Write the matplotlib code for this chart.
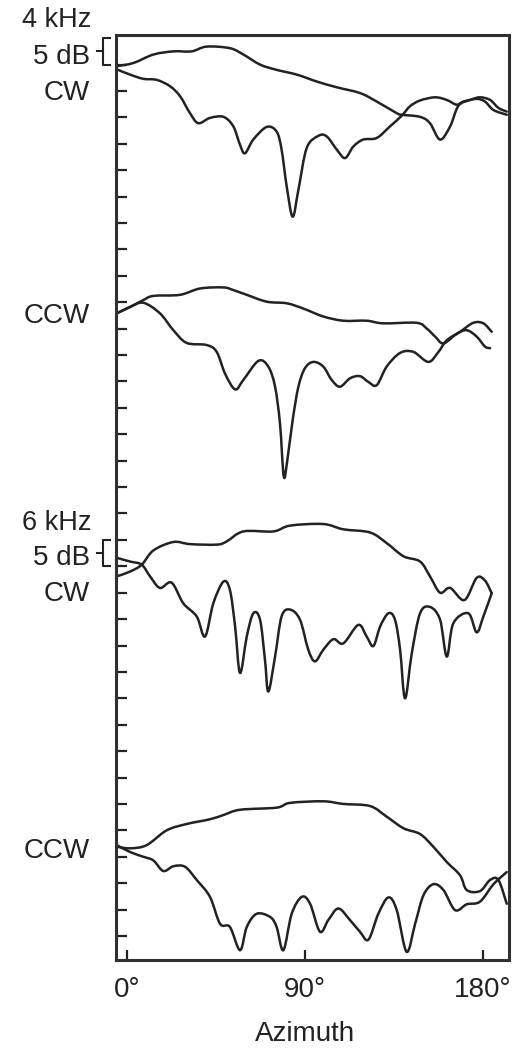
import matplotlib
matplotlib.use("Agg")
import matplotlib.pyplot as plt
from matplotlib.path import Path
from matplotlib.patches import PathPatch

plt.rcParams["font.family"] = ["Liberation Sans", "DejaVu Sans"]

# level of each panel on the common dB axis (5 dB per tick)
panel_names = ["4 kHz CW", "4 kHz CCW", "6 kHz CW", "6 kHz CCW"]
panel_offsets = [165, 120, 70, 15]

# 4 kHz, CW
cw4_smooth_az = [-5, 3.4, 13.5, 23.6, 32.8, 40.4, 52.2, 59.0, 67.4, 75.8, 86.0,
                 96.0, 106.2, 118.0, 126.4, 136.5, 139.0, 148.3, 153.3, 158.4,
                 163.5, 167.7, 173.6, 178.6, 183.7, 187.9, 192.1]
cw4_smooth_db = [-0.3, 0.3, 1.9, 2.5, 2.5, 3.4, 3.1, 1.9, 0.0, -1.0, -1.9,
                 -3.2, -4.3, -5.4, -7.0, -9.2, -9.5, -9.9, -11.1, -14.2,
                 -11.7, -7.8, -6.7, -6.2, -6.7, -8.2, -8.9]
cw4_notch_az = [-5, 1.7, 8.4, 15.2, 21.9, 27.0, 32.0, 36.2, 42.1, 48.9, 53.9,
                57.3, 59.8, 64.0, 70.8, 75.8, 78.3, 80.9, 83.9, 86.8, 91.0,
                96.9, 101.1, 106.2, 110.4, 114.6, 119.6, 126.4, 133.1, 139.0,
                143.2, 148.3, 155.9, 161.8, 166.8, 170.2, 176.9, 181.1, 185.4,
                192.1]
cw4_notch_db = [-0.9, -1.9, -2.7, -2.9, -4.1, -6.0, -9.2, -11.1, -10.1, -9.9,
                -11.7, -15.2, -16.8, -14.2, -11.8, -12.7, -16.1, -23.1, -28.8,
                -23.7, -15.8, -13.5, -13.6, -16.1, -17.7, -15.5, -14.2, -13.9,
                -11.7, -9.7, -7.9, -6.8, -6.2, -6.7, -7.6, -7.0, -6.5, -7.0,
                -8.6, -9.5]

# 4 kHz, CCW
ccw4_smooth_az = [-5, 1.7, 8.4, 13.5, 26.9, 37.1, 48.9, 53.9, 60.7, 70.8, 80.9,
                  89.3, 99.4, 109.5, 121.3, 129.7, 146.6, 151.7, 155.9, 160.1,
                  166.8, 171.9, 176.9, 181.1, 183.7]
ccw4_smooth_db = [-2.1, -0.9, 0.4, 1.2, 1.4, 2.6, 2.8, 2.3, 1.4, 0.1, -0.2,
                  -1.2, -2.7, -3.5, -3.5, -4.0, -3.9, -5.0, -6.5, -7.8,
                  -6.0, -5.3, -6.5, -8.4, -8.7]
ccw4_notch_az = [-5, 1.7, 8.4, 16.8, 23.6, 30.3, 40.4, 45.5, 49.7, 54.8, 59.0,
                 66.6, 71.6, 75.0, 77.5, 79.4, 81.2, 83.9, 86.8, 90.1, 94.4,
                 99.4, 103.6, 107.8, 112.9, 117.9, 122.2, 126.4, 131.4, 138.2,
                 144.9, 152.5, 157.6, 161.8, 168.5, 175.2, 180.3, 184.5]
ccw4_notch_db = [-2.1, -0.9, -0.1, -2.1, -5.3, -7.7, -8.1, -9.4, -13.5, -16.5,
                 -14.7, -11.1, -12.2, -16.0, -23.0, -33.0, -29.9, -22.3, -16.0,
                 -12.5, -11.3, -12.2, -14.7, -16.0, -14.4, -14.0, -15.1, -15.7,
                 -12.2, -9.6, -9.4, -11.3, -9.4, -7.2, -5.6, -3.9, -4.0, -5.6]

# 6 kHz, CW
cw6_smooth_az = [-5, 1.7, 7.6, 13.5, 23.6, 32.0, 45.5, 50.5, 59.0, 74.1, 82.6,
                 99.4, 109.5, 123.0, 131.4, 139.9, 148.3, 153.3, 158.4, 163.5,
                 170.7, 176.9, 181.1, 184.5]
cw6_smooth_db = [-1.9, -1.0, 0.3, 3.0, 4.6, 4.2, 4.1, 4.7, 6.6, 6.6, 7.7,
                 8.0, 7.0, 6.4, 4.4, 1.9, 0.9, -1.9, -5.0, -4.1,
                 -6.4, -2.2, -2.7, -5.1]
cw6_notch_az = [-5, 1.7, 7.6, 11.8, 16.8, 22.7, 28.6, 35.4, 39.6, 43.8, 48.9,
                52.2, 54.8, 57.3, 60.7, 64.0, 67.4, 69.9, 71.6, 75.0, 78.3,
                82.6, 87.6, 91.8, 95.2, 99.4, 104.5, 109.5, 117.1, 121.3,
                124.7, 128.1, 132.3, 135.6, 138.2, 140.7, 144.1, 148.3, 153.3,
                158.4, 161.8, 165.1, 172.7, 176.9, 180.3, 184.5]
cw6_notch_db = [1.6, 0.9, 0.3, -1.9, -4.1, -3.1, -7.0, -9.5, -13.3, -7.0, -2.9,
                -4.5, -11.4, -20.2, -13.3, -8.9, -10.1, -17.7, -23.7, -17.1,
                -9.5, -8.2, -10.1, -15.8, -18.0, -15.8, -13.8, -14.6, -11.1,
                -13.3, -15.1, -11.4, -8.9, -10.1, -15.8, -25.0, -16.5, -8.9,
                -7.7, -10.1, -17.1, -10.8, -8.9, -12.5, -9.5, -5.1]

# 6 kHz, CCW
ccw6_smooth_az = [-5, 1.7, 10.1, 20.2, 30.3, 42.1, 48.9, 57.3, 75.8, 82.6,
                  99.4, 109.5, 123.0, 131.4, 139.9, 148.3, 155.0, 161.8, 168.5,
                  171.9, 178.6, 183.7, 187.9, 192.1]
ccw6_smooth_db = [1.9, 1.6, 2.2, 5.0, 6.2, 7.1, 7.9, 8.9, 9.3, 10.2,
                  10.5, 10.0, 9.6, 7.6, 5.4, 4.3, 1.9, -1.0, -3.5,
                  -6.3, -6.5, -4.4, -4.4, -8.9]
ccw6_notch_az = [-5, 1.7, 8.4, 13.5, 18.5, 23.6, 29.5, 35.4, 42.1, 47.2, 52.2,
                 57.3, 60.7, 65.7, 72.5, 75.8, 79.2, 83.4, 88.5, 92.7, 97.7,
                 101.9, 107.0, 112.9, 117.9, 122.2, 127.2, 132.3, 136.5, 141.5,
                 145.8, 150.0, 155.0, 160.1, 166.0, 171.9, 178.6, 185.4, 192.1]
ccw6_notch_db = [2.2, 0.9, 0.0, -0.7, -2.7, -1.8, -1.9, -4.4, -7.6, -12.7,
                 -13.3, -17.7, -13.3, -10.8, -11.4, -13.3, -17.7, -10.8, -7.6,
                 -8.9, -14.2, -12.0, -9.8, -12.0, -14.2, -15.7, -10.8, -7.7,
                 -10.1, -18.0, -12.7, -7.3, -5.2, -6.3, -10.1, -9.0, -8.5,
                 -5.2, -2.9]

curves = [
    (cw4_smooth_az, cw4_smooth_db, cw4_notch_az, cw4_notch_db),
    (ccw4_smooth_az, ccw4_smooth_db, ccw4_notch_az, ccw4_notch_db),
    (cw6_smooth_az, cw6_smooth_db, cw6_notch_az, cw6_notch_db),
    (ccw6_smooth_az, ccw6_smooth_db, ccw6_notch_az, ccw6_notch_db),
]

x_ticks = [0, 90, 180]
x_tick_labels = ["0°", "90°", "180°"]

W, H = 520, 1049
INK = "#222222"


def smooth_path(xs, ys):
    """Bezier path through the read points (Catmull-Rom style handles)."""
    pts = list(zip(xs, ys))
    verts = [pts[0]]
    codes = [Path.MOVETO]
    n = len(pts)
    for i in range(n - 1):
        p0 = pts[max(i - 1, 0)]
        p1 = pts[i]
        p2 = pts[i + 1]
        p3 = pts[min(i + 2, n - 1)]
        c1 = (p1[0] + (p2[0] - p0[0]) / 6, p1[1] + (p2[1] - p0[1]) / 6)
        c2 = (p2[0] - (p3[0] - p1[0]) / 6, p2[1] - (p3[1] - p1[1]) / 6)
        verts += [c1, c2, p2]
        codes += [Path.CURVE4] * 3
    return Path(verts, codes)


fig = plt.figure(figsize=(W / 100, H / 100), dpi=100)
ax_l, ax_r, ax_t, ax_b = 116, 508.5, 35, 960
ax = fig.add_axes([ax_l / W, 1 - ax_b / H, (ax_r - ax_l) / W, (ax_b - ax_t) / H])

for offset, (sa, sd, na, nd) in zip(panel_offsets, curves):
    for az, db in [(sa, sd), (na, nd)]:
        level = [v + offset for v in db]
        ax.add_patch(PathPatch(smooth_path(az, level), facecolor="none",
                               edgecolor=INK, lw=1.8, capstyle="round",
                               joinstyle="round", clip_on=False))

ax.set_xlim(-5.4, 193)
ax.set_ylim(-4.55, 170.6)

for side in ["left", "right", "top", "bottom"]:
    ax.spines[side].set_linewidth(2.2)
    ax.spines[side].set_color("#303030")

ax.set_yticks(list(range(0, 170, 5)))
ax.tick_params(axis="y", direction="in", length=8, width=1.6, color=INK,
               labelleft=False)
ax.set_xticks(x_ticks)
ax.set_xticklabels(x_tick_labels, fontsize=20, color=INK)
ax.tick_params(axis="x", direction="in", length=7, width=1.6, color=INK, pad=12)

ax.set_xlabel("Azimuth", fontsize=20, color=INK, va="top")
ax.xaxis.set_label_coords((305 - ax_l) / (ax_r - ax_l), (ax_b - 1021) / (ax_b - ax_t))


def put(text, x_px, base_px, size=20):
    fig.text(x_px / W, 1 - base_px / H, text, fontsize=size, color=INK,
             ha="right", va="baseline")


put("4 kHz", 91, 27, size=19.5)
put("5 dB", 90, 64)
put("CW", 90, 100)
put("CCW", 90, 323)
put("6 kHz", 91, 530, size=19.5)
put("5 dB", 90, 565)
put("CW", 90, 601)
put("CCW", 90, 858)

# 5 dB scale brackets
ytrans = ax.get_yaxis_transform()
bx = lambda px: (px - ax_l) / (ax_r - ax_l)
for lo in [panel_offsets[0], panel_offsets[2]]:
    hi = lo + 5
    mid = lo + 2.5
    ax.plot([bx(110), bx(103), bx(103), bx(110)], [hi, hi, lo, lo],
            transform=ytrans, color=INK, lw=1.5, clip_on=False)
    ax.plot([bx(96.5), bx(103)], [mid, mid], transform=ytrans, color=INK,
            lw=1.5, clip_on=False)

fig.savefig("out.png", dpi=100)
